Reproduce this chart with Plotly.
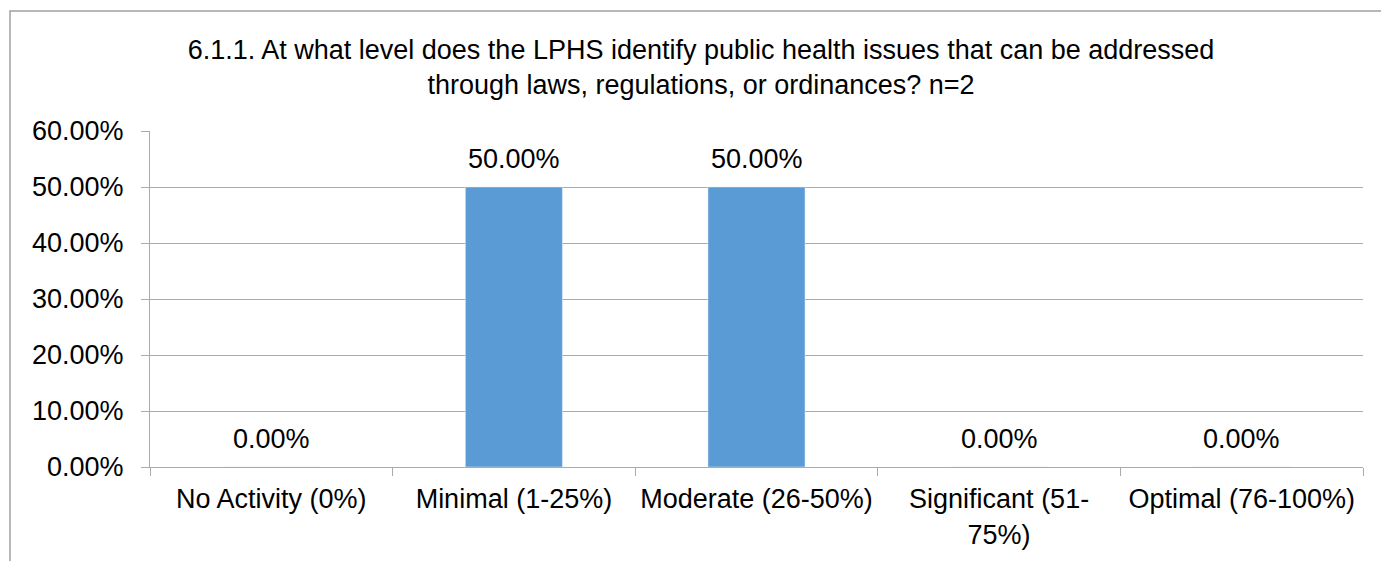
import plotly.graph_objects as go

categories = ["No Activity (0%)", "Minimal (1-25%)", "Moderate (26-50%)",
              "Significant (51-<br>75%)", "Optimal (76-100%)"]
values = [0.0, 0.5, 0.5, 0.0, 0.0]
labels = ["0.00%", "50.00%", "50.00%", "0.00%", "0.00%"]
tick_vals = [0, 0.1, 0.2, 0.3, 0.4, 0.5, 0.6]
tick_text = ["0.00%", "10.00%", "20.00%", "30.00%", "40.00%", "50.00%", "60.00%"]

title = ("6.1.1. At what level does the LPHS identify public health issues that can be addressed"
         "<br>through laws, regulations, or ordinances? n=2")

font = "Liberation Sans, Arial, sans-serif"
grid = "#ABABAB"
fs = 27

fig = go.Figure(go.Bar(
    x=categories, y=values,
    marker_color="#5B9BD5", width=0.4, hoverinfo="x+y",
))

# value labels above bars
annotations = [
    dict(x=c, y=v, text=t, showarrow=False, xanchor="center", yanchor="bottom",
         yshift=11, font=dict(size=fs, color="black", family=font))
    for c, v, t in zip(categories, values, labels)
]

W, H = 1381, 561
ml, mr, mt, mb = 150, 18, 131, 94
pw, ph = W - ml - mr, H - mt - mb

fig.update_layout(
    width=W, height=H,
    margin=dict(l=ml, r=mr, t=mt, b=mb),
    paper_bgcolor="white", plot_bgcolor="white",
    font=dict(family=font, size=fs, color="black"),
    title=dict(text=title, x=701 / W, xref="container", xanchor="center",
               y=1 - 59 / H, yref="container", yanchor="middle",
               font=dict(size=fs, color="black")),
    showlegend=False,
    bargap=0.6,
    annotations=annotations,
    shapes=[dict(type="rect", xref="paper", yref="paper",
                 x0=(10 - ml) / pw, x1=(1400 - ml) / pw,
                 y0=-(H + 10 - mt - ph) / ph, y1=1 + (mt - 11) / ph,
                 line=dict(color="#A0A0A0", width=1.5), layer="below")],
)
fig.update_yaxes(range=[0, 0.6], tickvals=tick_vals, ticktext=tick_text,
                 showgrid=True, gridcolor=grid, gridwidth=1,
                 showline=True, linecolor=grid, linewidth=1,
                 ticks="outside", ticklen=8, tickcolor=grid,
                 ticklabelstandoff=12, zeroline=False)
fig.update_xaxes(showgrid=False, showline=True, linecolor=grid, linewidth=1,
                 ticks="outside", ticklen=8, tickcolor=grid,
                 tickson="boundaries", tickangle=0, ticklabelstandoff=8)

fig.write_html("out.html", config={"displayModeBar": False},
               post_script="document.body.style.margin='0';")
